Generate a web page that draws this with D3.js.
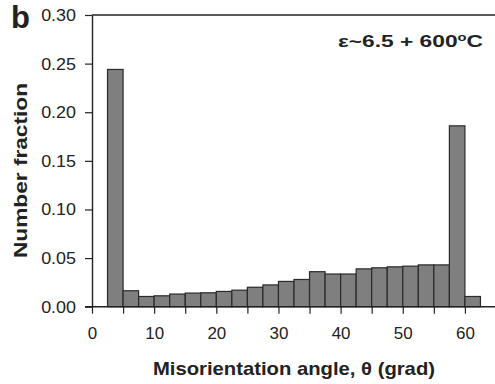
<!DOCTYPE html>
<html lang="en">
<head>
    <script src="https://d3js.org/d3.v7.min.js"></script>
    <title>Misorientation histogram</title>
    <style>
        body { margin: 0; background: #fff; }
        text { font-family: "Liberation Sans", Arial, sans-serif; fill: #222; }
    </style>
</head>
<body>
    <div id="container"></div>
    <script>
        // bin edges (left side of each bar), 2.5 deg wide
        const binStart = [2.5, 5, 7.5, 10, 12.5, 15, 17.5, 20, 22.5, 25, 27.5, 30,
                          32.5, 35, 37.5, 40, 42.5, 45, 47.5, 50, 52.5, 55, 57.5, 60];
        const fraction = [0.244, 0.0164, 0.0105, 0.0112, 0.013, 0.014, 0.0143, 0.0157,
                          0.017, 0.020, 0.0224, 0.026, 0.028, 0.036, 0.0336, 0.0336,
                          0.0389, 0.040, 0.041, 0.0417, 0.043, 0.043, 0.186, 0.0105];
        const binWidth = 2.5;
        const xTicks = [0, 5, 10, 15, 20, 25, 30, 35, 40, 45, 50, 55, 60];
        const yTicks = [0, 0.05, 0.10, 0.15, 0.20, 0.25, 0.30];

        const data = binStart.map((b, i) => ({start: b, value: fraction[i]}));

        const W = 495, H = 384;
        const PAD_L = 92, PAD_R = 496, PAD_T = 15, PAD_B = 306.7;

        const xScale = d3.scaleLinear().domain([0, 65]).range([PAD_L, PAD_R]);
        const yScale = d3.scaleLinear().domain([0, 0.30]).range([PAD_B, PAD_T]);

        const svg = d3.select("#container").append("svg").attr("width", W).attr("height", H);

        // bars
        svg.selectAll("rect.bar")
           .data(data)
           .enter()
           .append("rect")
           .attr("class", "bar")
           .attr("x", d => xScale(d.start))
           .attr("y", d => yScale(d.value))
           .attr("width", d => xScale(d.start + binWidth) - xScale(d.start))
           .attr("height", d => yScale(0) - yScale(d.value))
           .attr("fill", "#7f7f7f")
           .attr("stroke", "#2a2a2a")
           .attr("stroke-width", 1.2);

        // frame top line
        svg.append("line")
           .attr("x1", xScale(0)).attr("x2", PAD_R)
           .attr("y1", yScale(0.30)).attr("y2", yScale(0.30))
           .attr("stroke", "#222").attr("stroke-width", 1.4);

        const xAxis = d3.axisBottom(xScale).tickValues(xTicks).tickSizeInner(7).tickSizeOuter(0).tickPadding(14)
                        .tickFormat(d => d % 10 === 0 ? d : "");
        const yAxis = d3.axisLeft(yScale).tickValues(yTicks).tickSizeInner(7).tickSizeOuter(0).tickPadding(8)
                        .tickFormat(d3.format(".2f"));

        const gx = svg.append("g").attr("transform", "translate(0," + PAD_B + ")").call(xAxis);
        const gy = svg.append("g").attr("transform", "translate(" + PAD_L + ",0)").call(yAxis);

        [gx, gy].forEach(g => {
            g.select(".domain").attr("stroke", "#222").attr("stroke-width", 1.4);
            g.selectAll(".tick line").attr("stroke", "#222").attr("stroke-width", 1.2);
            g.selectAll(".tick text").style("font-size", "16px").attr("fill", "#222")
             .attr("font-family", "Liberation Sans, Arial, sans-serif");
        });
        // extend bottom axis line left to meet the y tick
        gx.select(".domain").attr("d", "M" + (PAD_L - 7) + ",0H" + PAD_R);

        // the original is a little wider than Arial
        gx.selectAll(".tick text").attr("transform", "scale(1.06,1)").attr("x", 0);
        gy.selectAll(".tick text").attr("dy", "0.34em").attr("x", -16 / 1.12).attr("transform", "scale(1.12,1)");

        // axis titles
        svg.append("text")
           .attr("x", 153).attr("y", 375)
           .attr("textLength", 282).attr("lengthAdjust", "spacingAndGlyphs")
           .style("font-size", "18.5px").style("font-weight", "bold")
           .text("Misorientation angle, \u03b8 (grad)");

        svg.append("text")
           .attr("transform", "translate(27,258) rotate(-90)")
           .attr("textLength", 175).attr("lengthAdjust", "spacingAndGlyphs")
           .style("font-size", "18.5px").style("font-weight", "bold")
           .text("Number fraction");

        // annotation and panel letter
        svg.append("text")
           .attr("x", 338).attr("y", 46.5)
           .attr("textLength", 145).attr("lengthAdjust", "spacingAndGlyphs")
           .style("font-size", "17px").style("font-weight", "bold")
           .html("\u03b5~6.5 + 600<tspan dy='-6' font-size='11px'>o</tspan><tspan dy='6'>C</tspan>");

        svg.append("text")
           .attr("x", 11).attr("y", 28)
           .style("font-size", "31px").style("font-weight", "bold")
           .attr("fill", "#111")
           .text("b");
    </script>
</body>
</html>
